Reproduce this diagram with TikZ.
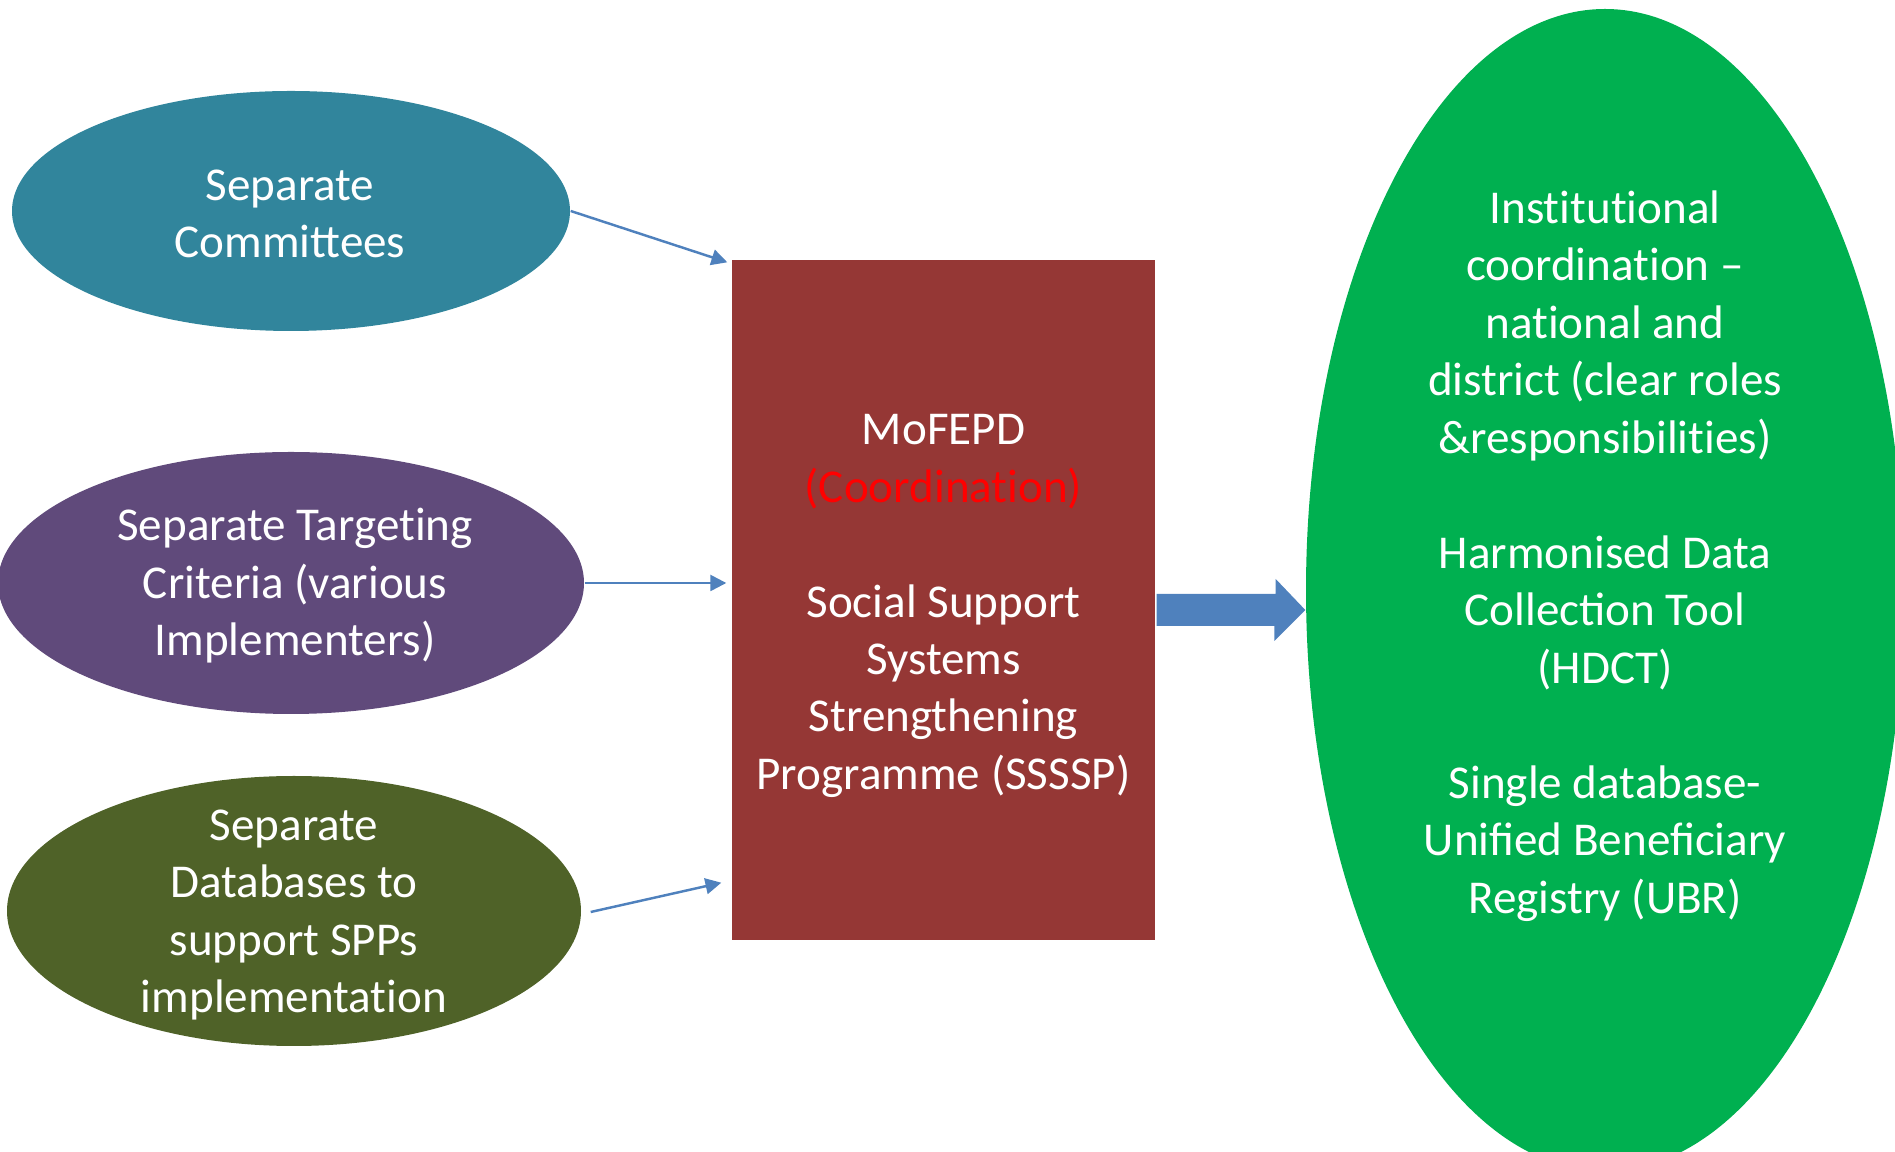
\documentclass[tikz,border=0pt]{standalone}
\usepackage{fontspec}
\setmainfont{Carlito}
\usetikzlibrary{shapes.geometric, arrows.meta, calc}
\definecolor{committee}{RGB}{49, 133, 156}
\definecolor{targeting}{RGB}{96, 74, 123}
\definecolor{database}{RGB}{79, 98, 40}
\definecolor{mofepd}{RGB}{149, 55, 53}
\definecolor{outcome}{RGB}{0, 176, 80}
\definecolor{link}{RGB}{79, 129, 189}
\definecolor{coord}{RGB}{255, 0, 0}
% keeps t and i apart (no ti ligature)
\newcommand{\ti}{t\kern0pt i}

\begin{document}
\begin{tikzpicture}[x=0.1mm, y=-0.1mm,
    blob/.style={ellipse, inner sep=0pt},
    words/.style={text=white, align=center, inner sep=0pt, font=\fontsize{13.4}{16.35}\selectfont},
    feed/.style={draw=link, line width=0.7pt, -{Triangle[length=4.5pt, width=4.5pt]}}]
  \useasboundingbox (0, 0) rectangle (1895, 1152);
  \clip (0, 0) rectangle (1895, 1152);

  % left side: separate pieces
  \node[blob, fill=committee, minimum width=5.58cm, minimum height=2.40cm] (comm) at (291, 211) {};
  \node[blob, fill=targeting, minimum width=5.86cm, minimum height=2.62cm] (targ) at (291, 583) {};
  \node[blob, fill=database, minimum width=5.74cm, minimum height=2.70cm] (db) at (294, 911) {};
  \node[words] (commtxt) at (290, 214) {Separate\\ Committees};
  \node[words] (targtxt) at (295, 586) {Separate Targe\ti ng\\ Criteria (various\\ Implementers)};
  \node[words] (dbtxt) at (294, 915) {Separate\\ Databases to\\ support SPPs\\ implementa\ti on};

  % middle box
  \node[rectangle, fill=mofepd, minimum width=4.23cm, minimum height=6.80cm, inner sep=0pt] (box) at (943.5, 600) {};
  \node[words] (boxtxt) at (943.5, 606) {MoFEPD\\ \textcolor{coord}{(Coordina\ti on)}\\[16.35pt]
    Social Support\\ Systems\\ Strengthening\\ Programme (SSSSP)};

  % right side: outcome
  \node[blob, fill=outcome, minimum width=5.98cm, minimum height=11.62cm] (goal) at (1605, 590) {};
  \node[words] (goaltxt) at (1605, 556) {Ins\ti tu\ti onal\\ coordina\ti on –\\ na\ti onal and\\ district (clear roles\\ \&responsibili\ti es)\\[16.35pt]
    Harmonised Data\\ Collection Tool\\ (HDCT)\\[16.35pt]
    Single database-\\ Unified Beneficiary\\ Registry (UBR)};

  \draw[feed] (comm.east) -- ($(box.north west)+(-4, 3)$);
  \draw[feed] (targ.east) -- ($(box.west |- targ.east)+(-5, 0)$);
  \draw[feed] ($(db.east)+(9, 1)$) -- ($(box.south west)+(-10, -58)$);

  \fill[link] ($(box.east)+(1, -6)$) -- ++(119, 0) -- ++(0, -15) -- ($(goal.west)+(0, 20)$)
    -- ++(-31, 31) -- ++(0, -15) -- ($(box.east)+(1, 26)$) -- cycle;

  \node[text=gray, font=\fontsize{11}{13}\selectfont] (pagenum) at (1780, 1172) {6};
\end{tikzpicture}
\end{document}
